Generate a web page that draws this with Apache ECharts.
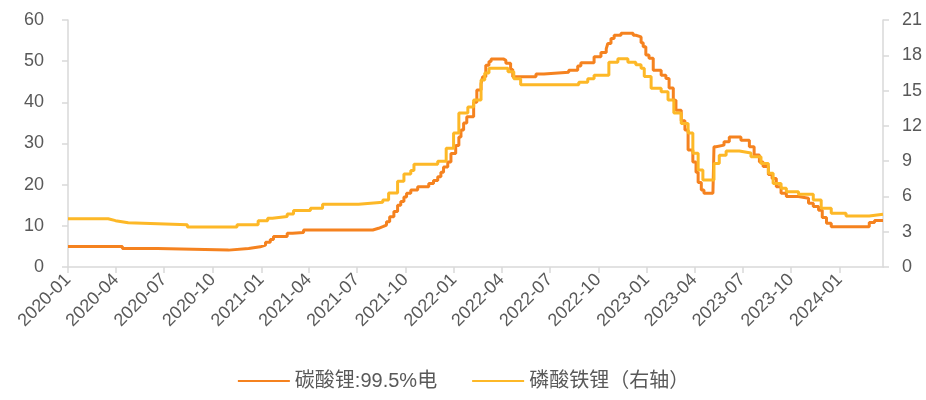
<!DOCTYPE html>
<html>
<head>
<meta charset="utf-8">
<script src="https://cdn.jsdelivr.net/npm/echarts@6/dist/echarts.min.js"></script>
<style>
  html, body { margin: 0; padding: 0; background: #fff; }
  #chart { width: 926px; height: 400px; }
</style>
</head>
<body>
<div id="chart"></div>
<script>
// 碳酸锂:99.5%电 (万元/吨, left axis) — each entry holds from its date until the next one
const lithiumDates = [
  '2020-01-01','2020-04-13','2020-06-18','2020-10-31','2020-12-08','2020-12-30',
  '2021-01-09','2021-01-18','2021-01-24','2021-02-19','2021-03-01','2021-03-22',
  '2021-07-31','2021-08-11','2021-08-19','2021-08-26','2021-09-01','2021-09-09',
  '2021-09-16','2021-09-22','2021-09-28','2021-10-03','2021-10-11','2021-10-24',
  '2021-11-14','2021-11-23','2021-12-01','2021-12-07','2021-12-12','2021-12-20',
  '2021-12-26','2022-01-04','2022-01-10','2022-01-14','2022-01-19','2022-01-25',
  '2022-02-07','2022-02-13','2022-02-21','2022-02-24','2022-03-02','2022-03-08',
  '2022-03-12','2022-04-05','2022-04-09','2022-04-18','2022-04-22','2022-06-05',
  '2022-06-20','2022-08-06','2022-08-23','2022-08-29','2022-09-23','2022-10-06',
  '2022-10-16','2022-10-19','2022-10-25','2022-10-31','2022-11-13','2022-12-06',
  '2022-12-11','2022-12-21','2022-12-25','2022-12-30','2023-01-05','2023-01-13',
  '2023-01-28','2023-02-06','2023-02-12','2023-02-20','2023-02-25','2023-03-07',
  '2023-03-14','2023-03-20','2023-03-29','2023-04-04','2023-04-08','2023-04-14',
  '2023-04-19','2023-05-06','2023-05-08','2023-05-12','2023-05-27','2023-06-06',
  '2023-06-28','2023-07-14','2023-07-23','2023-08-02','2023-08-09','2023-08-19',
  '2023-08-26','2023-09-03','2023-09-12','2023-09-22','2023-10-15','2023-11-03',
  '2023-11-12','2023-11-22','2023-11-29','2023-12-07','2023-12-16','2024-02-26',
  '2024-03-07','2024-03-23'
];
const lithiumPrice = [
  5.0, 4.5, 4.1, 4.5, 4.9, 5.3,
  6.0, 6.7, 7.4, 8.2, 8.4, 9.0,
  9.4, 9.8, 10.2, 11.0, 12.2, 13.5,
  15.0, 15.9, 17.0, 17.9, 18.7, 19.5,
  20.3, 21.0, 21.9, 23.0, 24.3, 25.5,
  27.6, 29.5, 31.6, 33.3, 35.0, 36.5,
  40.0, 43.0, 44.5, 46.2, 49.0, 49.9,
  50.5, 50.2, 49.5, 48.0, 46.2, 46.9,
  47.3, 47.8, 48.8, 49.6, 51.1, 52.1,
  53.0, 54.3, 55.5, 56.3, 56.8, 56.3,
  55.9, 54.5, 53.5, 51.5, 50.7, 47.8,
  46.6, 45.8, 43.5, 40.5, 38.1, 35.5,
  33.3, 28.4, 25.5, 23.0, 20.5, 18.7,
  17.9, 18.2, 29.2, 29.6, 30.4, 31.6,
  30.8, 29.2, 27.2, 25.5, 24.4, 22.5,
  21.5, 19.5, 17.9, 17.1, 16.7, 15.5,
  14.7, 13.8, 12.0, 10.6, 9.8, 10.8,
  11.3, 11.3
];

// 磷酸铁锂 (万元/吨, right axis)
const lfpDates = [
  '2020-01-01','2020-03-17','2020-03-31','2020-04-24','2020-08-14','2020-11-16',
  '2020-12-26','2021-01-13','2021-01-22','2021-02-19','2021-03-03','2021-04-04',
  '2021-04-27','2021-07-04','2021-08-19','2021-08-30','2021-09-16','2021-09-28',
  '2021-10-11','2021-10-17','2021-12-01','2021-12-17','2021-12-31','2022-01-10',
  '2022-01-27','2022-02-07','2022-02-21','2022-02-28','2022-03-08','2022-04-13',
  '2022-04-24','2022-05-07','2022-08-25','2022-09-11','2022-09-23','2022-10-21',
  '2022-11-07','2022-11-26','2022-12-11','2022-12-21','2022-12-27','2023-01-09',
  '2023-01-28','2023-02-10','2023-02-21','2023-03-07','2023-03-20','2023-03-29',
  '2023-04-08','2023-04-17','2023-05-08','2023-05-18','2023-05-31','2023-06-25',
  '2023-07-17','2023-08-05','2023-08-19','2023-08-28','2023-09-12','2023-09-22',
  '2023-10-15','2023-11-12','2023-11-27','2023-12-16','2024-01-13','2024-02-26',
  '2024-03-23'
];
const lfpPrice = [
  4.1, 3.94, 3.77, 3.6, 3.4, 3.6,
  3.94, 4.14, 4.3, 4.5, 4.8, 5.0,
  5.33, 5.5, 5.7, 6.3, 7.3, 7.9,
  8.2, 8.73, 9.0, 10.1, 11.4, 13.1,
  13.6, 14.2, 15.9, 16.5, 16.9, 16.6,
  16.0, 15.5, 15.7, 16.0, 16.3, 17.4,
  17.7, 17.4, 17.2, 16.9, 16.2, 15.2,
  14.9, 14.2, 13.1, 12.2, 11.4, 9.67,
  8.25, 7.4, 8.8, 9.5, 9.86, 9.7,
  9.38, 8.8, 7.97, 7.1, 6.7, 6.4,
  6.18, 5.7, 5.0, 4.57, 4.34, 4.48,
  4.48
];

// Quarter starts carrying the date labels and ticks
const quarterLabels = [
  '2020-01','2020-04','2020-07','2020-10','2021-01','2021-04','2021-07','2021-10',
  '2022-01','2022-04','2022-07','2022-10','2023-01','2023-04','2023-07','2023-10','2024-01'
];

const dateRange = ['2020-01-01', '2024-03-23'];
const leftTicks = { min: 0, max: 60, interval: 10 };
const rightTicks = { min: 0, max: 21, interval: 3 };

const FONT = "'Liberation Sans', 'Noto Sans CJK SC', sans-serif";
const TEXT = '#595959';
const AXIS = '#d9d9d9';

function toTime(s) {
  const p = s.split('-').map(Number);
  return new Date(p[0], p[1] - 1, p[2] || 1).getTime();
}
const quarterValues = quarterLabels.map(toTime);
const labelByTime = {};
quarterLabels.forEach((l, i) => { labelByTime[quarterValues[i]] = l; });

const chart = echarts.init(document.getElementById('chart'), null, { renderer: 'canvas' });

const axisLineStyle = { color: AXIS, width: 1.5 };
const yAxisCommon = {
  type: 'value',
  axisLine: { show: true, lineStyle: axisLineStyle },
  axisTick: { show: true, length: 6, lineStyle: axisLineStyle },
  splitLine: { show: false },
  axisLabel: { color: TEXT, fontSize: 18, fontFamily: FONT }
};

chart.setOption({
  animation: false,
  backgroundColor: '#ffffff',
  grid: { left: 68, right: 43, top: 20, bottom: 133, containLabel: false },
  legend: {
    bottom: 4,
    left: 'center',
    itemWidth: 52,
    itemHeight: 14,
    itemGap: 34,
    itemStyle: { opacity: 0 },
    textStyle: { color: TEXT, fontSize: 20, fontFamily: FONT },
    data: ['碳酸锂:99.5%电', '磷酸铁锂（右轴）']
  },
  xAxis: {
    type: 'value',
    min: toTime(dateRange[0]),
    max: toTime(dateRange[1]),
    axisLine: { show: true, lineStyle: axisLineStyle },
    axisTick: { show: true, length: 6, lineStyle: axisLineStyle, customValues: quarterValues },
    splitLine: { show: false },
    axisLabel: {
      customValues: quarterValues,
      rotate: 45,
      margin: 10,
      color: TEXT,
      fontSize: 18,
      fontFamily: FONT,
      formatter: function (v) { return labelByTime[v] || ''; }
    }
  },
  yAxis: [
    Object.assign({}, yAxisCommon, leftTicks, {
      position: 'left',
      axisLabel: Object.assign({}, yAxisCommon.axisLabel, { margin: 24 })
    }),
    Object.assign({}, yAxisCommon, rightTicks, {
      position: 'right',
      axisLabel: Object.assign({}, yAxisCommon.axisLabel, { margin: 19 })
    })
  ],
  series: [
    {
      name: '碳酸锂:99.5%电',
      type: 'line',
      yAxisIndex: 0,
      step: 'end',
      symbol: 'none',
      lineStyle: { color: '#F5821F', width: 3 },
      itemStyle: { color: '#F5821F' },
      data: lithiumDates.map((d, i) => [toTime(d), lithiumPrice[i]])
    },
    {
      name: '磷酸铁锂（右轴）',
      type: 'line',
      yAxisIndex: 1,
      step: 'end',
      symbol: 'none',
      lineStyle: { color: '#FDB827', width: 3 },
      itemStyle: { color: '#FDB827' },
      data: lfpDates.map((d, i) => [toTime(d), lfpPrice[i]])
    }
  ]
});
</script>
</body>
</html>
